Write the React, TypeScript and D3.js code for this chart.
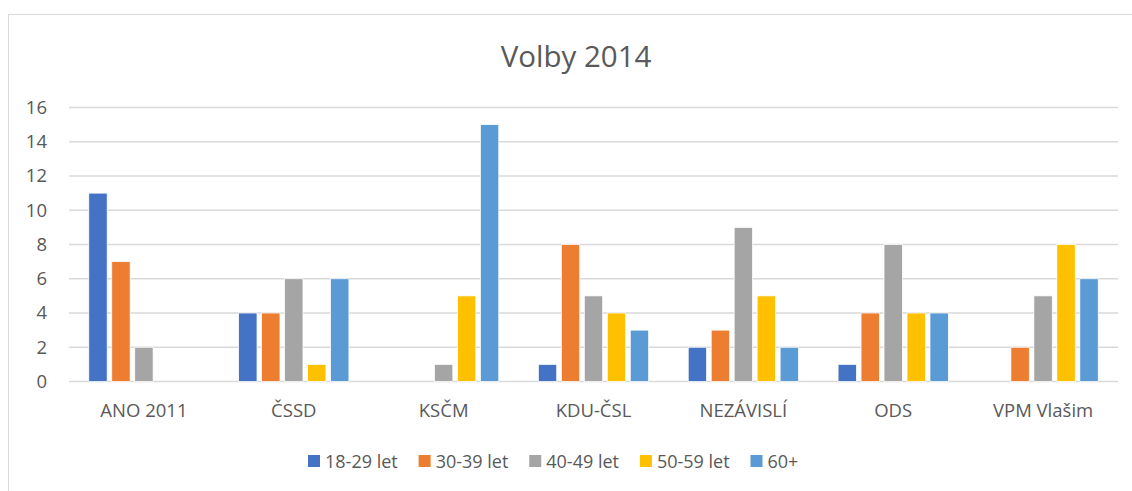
import { useEffect, useRef } from "react";
import * as d3 from "d3";

const title = "Volby 2014";
const categories = ["ANO 2011", "ČSSD", "KSČM", "KDU-ČSL", "NEZÁVISLÍ", "ODS", "VPM Vlašim"];
const seriesNames = ["18-29 let", "30-39 let", "40-49 let", "50-59 let", "60+"];
const seriesColors = ["#4472C4", "#ED7D31", "#A5A5A5", "#FFC000", "#5B9BD5"];
const age18_29 = [11, 4, 0, 1, 2, 1, 0];
const age30_39 = [7, 4, 0, 8, 3, 4, 2];
const age40_49 = [2, 6, 1, 5, 9, 8, 5];
const age50_59 = [0, 1, 5, 4, 5, 4, 8];
const age60plus = [0, 6, 15, 3, 2, 4, 6];
const yTicks = [0, 2, 4, 6, 8, 10, 12, 14, 16];

const FONT = "'Open Sans', 'Segoe UI', sans-serif";
const TEXT = "#595959";

export default function App() {
  const svgRef = useRef<SVGSVGElement>(null);

  useEffect(() => {
    const el = svgRef.current;
    if (!el) return;
    const svg = d3.select(el);
    svg.selectAll("*").remove();

    const W = 1132;
    const H = 491;
    const m = { top: 107.5, right: 14, bottom: 109.5, left: 69 };
    const iw = W - m.left - m.right;
    const ih = H - m.top - m.bottom;

    const values = [age18_29, age30_39, age40_49, age50_59, age60plus];
    const rows = categories.map((c, i) => ({ cat: c, vals: values.map((s) => s[i]) }));

    // chart frame
    svg
      .append("rect")
      .attr("x", 8.5)
      .attr("y", 14.5)
      .attr("width", 1200)
      .attr("height", 600)
      .attr("fill", "#fff")
      .attr("stroke", "#D9D9D9")
      .attr("stroke-width", 1);

    svg
      .append("text")
      .attr("x", 576)
      .attr("y", 67)
      .attr("text-anchor", "middle")
      .attr("fill", TEXT)
      .style("font-family", FONT)
      .style("font-size", "29.5px")
      .text(title);

    const g = svg.append("g").attr("transform", `translate(${m.left},${m.top})`);

    const x0 = d3.scaleBand().domain(categories).range([0, iw]).padding(0);
    const x1 = d3
      .scaleBand()
      .domain(seriesNames)
      .range([x0.bandwidth() * 0.132, x0.bandwidth() * 0.868])
      .paddingInner(0.2)
      .paddingOuter(0);
    const y = d3.scaleLinear().domain([0, 16]).range([ih, 0]);

    // grid
    g.selectAll(".grid")
      .data(yTicks)
      .enter()
      .append("line")
      .attr("x1", 0)
      .attr("x2", iw)
      .attr("y1", (d) => y(d))
      .attr("y2", (d) => y(d))
      .attr("stroke", "#D9D9D9")
      .attr("stroke-width", 1.3);

    // y axis labels
    const yAxis = g
      .append("g")
      .attr("transform", "translate(-19,0)")
      .call(d3.axisLeft(y).tickValues(yTicks).tickSize(0));
    yAxis.select(".domain").remove();
    yAxis
      .selectAll(".tick text")
      .attr("fill", TEXT)
      .style("font-family", FONT)
      .style("font-size", "18.5px");

    // bars
    const groups = g
      .selectAll(".cat")
      .data(rows)
      .enter()
      .append("g")
      .attr("transform", (d) => `translate(${x0(d.cat)},0)`);

    groups
      .selectAll("rect")
      .data((d) => d.vals.map((v, i) => ({ v, name: seriesNames[i], color: seriesColors[i] })))
      .enter()
      .filter((d) => d.v > 0)
      .append("rect")
      .attr("x", (d) => x1(d.name)!)
      .attr("width", x1.bandwidth())
      .attr("y", (d) => y(d.v))
      .attr("height", (d) => y(0) - y(d.v))
      .attr("fill", (d) => d.color)
      .attr("stroke", "#fff")
      .attr("stroke-width", 0.75);

    // category labels
    const xAxis = g
      .append("g")
      .attr("transform", `translate(0,${ih})`)
      .call(d3.axisBottom(x0).tickSize(0).tickPadding(0));
    xAxis.select(".domain").remove();
    xAxis
      .selectAll(".tick text")
      .attr("dy", null)
      .attr("y", 35.5)
      .attr("fill", TEXT)
      .style("font-family", FONT)
      .style("font-size", "18.5px");

    // legend
    const lx = d3.scaleLinear().domain([0, seriesNames.length - 1]).range([308, 750.5]);
    const legend = svg
      .selectAll(".leg")
      .data(seriesNames)
      .enter()
      .append("g")
      .attr("transform", (_, i) => `translate(${lx(i)},461)`);
    legend
      .append("rect")
      .attr("x", 0)
      .attr("y", -6)
      .attr("width", 12)
      .attr("height", 12)
      .attr("fill", (_, i) => seriesColors[i]);
    legend
      .append("text")
      .attr("x", 17)
      .attr("y", 6.5)
      .attr("fill", TEXT)
      .style("font-family", FONT)
      .style("font-size", "18px")
      .text((d) => d);
  }, []);

  return (
    <svg
      ref={svgRef}
      width={1132}
      height={491}
      style={{ position: "absolute", left: 0, top: 0, display: "block" }}
    />
  );
}
